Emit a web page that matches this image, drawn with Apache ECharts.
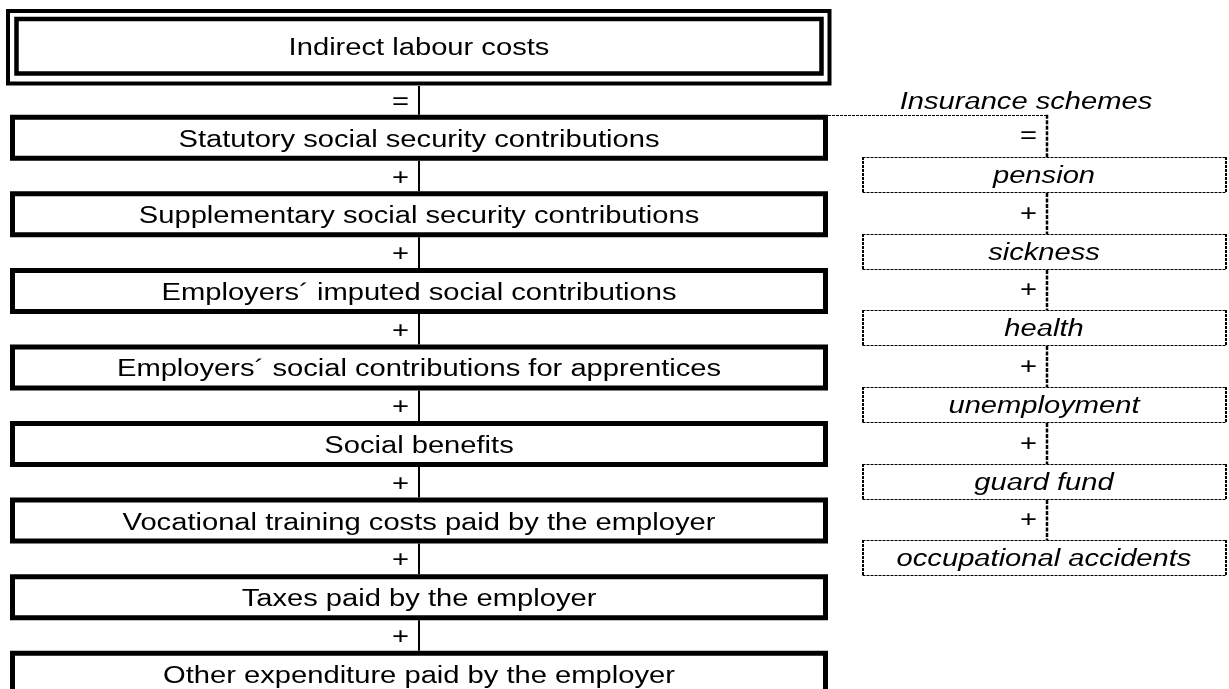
<!DOCTYPE html>
<html>
<head>
<meta charset="utf-8">
<script src="https://cdn.jsdelivr.net/npm/echarts@6/dist/echarts.min.js"></script>
<style>
  html, body { margin: 0; padding: 0; background: #fff; }
  #chartMain { width: 1229px; height: 689px; }
</style>
</head>
<body>
<div id="chartMain"></div>
<script>
// diagram content
const totalLabel = 'Indirect labour costs';
const mainItems = [
    'Statutory social security contributions',
    'Supplementary social security contributions',
    'Employers\u00b4 imputed social contributions',
    'Employers\u00b4 social contributions for apprentices',
    'Social benefits',
    'Vocational training costs paid by the employer',
    'Taxes paid by the employer',
    'Other expenditure paid by the employer'
];
const mainOps = ['=', '+', '+', '+', '+', '+', '+', '+'];
const schemeLabel = 'Insurance schemes';
const schemeItems = ['pension', 'sickness', 'health', 'unemployment', 'guard fund', 'occupational accidents'];
const schemeOps = ['=', '+', '+', '+', '+', '+'];

const FONT = 'Liberation Sans, Arial, sans-serif';
const TOP_ROW = -1.18;
const SCHEME_SHIFT = 0.49;

const label = (x, y, text, opts) => {
    opts = opts || {};
    return {
        type: 'text',
        x: x,
        y: y,
        scaleX: 1.24,
        style: {
            x: 0,
            y: 0,
            text: text,
            fill: '#000',
            align: opts.align || 'center',
            verticalAlign: 'middle',
            fontFamily: FONT,
            fontSize: 23.5,
            fontStyle: opts.italic ? 'italic' : 'normal'
        }
    };
};

const renderTop = (params, api) => {
    const c = api.coord([0, api.value(1)]);
    const x = (v) => api.coord([v, 0])[0];
    return {
        type: 'group',
        children: [
            { type: 'rect', shape: { x: x(8), y: c[1] - 36.5, width: x(829.5) - x(8), height: 72.5 },
              style: { fill: null, stroke: '#000', lineWidth: 4 } },
            { type: 'rect', shape: { x: x(16.5), y: c[1] - 28.5, width: x(821.5) - x(16.5), height: 54.5 },
              style: { fill: null, stroke: '#000', lineWidth: 4.5 } },
            label(x(419), c[1] + 1.5, totalLabel)
        ]
    };
};

const renderMain = (params, api) => {
    const i = api.value(1);
    const c = api.coord([0, i]);
    const x = (v) => api.coord([v, 0])[0];
    const boxTop = c[1] - 23;
    const prevBottom = i === 0 ? api.coord([0, TOP_ROW])[1] + 38.5 : api.coord([0, i - 1])[1] + 23;
    return {
        type: 'group',
        children: [
            { type: 'rect', shape: { x: x(12.5), y: boxTop + 2.5, width: x(825.5) - x(12.5), height: 41 },
              style: { fill: null, stroke: '#000', lineWidth: 5 } },
            { type: 'line', shape: { x1: x(419), y1: prevBottom, x2: x(419), y2: boxTop },
              style: { stroke: '#000', lineWidth: 2 } },
            label(x(409), (prevBottom + boxTop) / 2 + 2, mainOps[i], { align: 'right' }),
            label(x(419), c[1] + 2.5, mainItems[i])
        ]
    };
};

const renderScheme = (params, api) => {
    const j = params.dataIndex;
    const c = api.coord([0, api.value(1)]);
    const x = (v) => api.coord([v, 0])[0];
    const firstTop = api.coord([0, 0])[1] - 23;
    const boxTop = Math.round(c[1] - 18);
    const boxBottom = boxTop + 36;
    const prevBottom = j === 0 ? firstTop : Math.round(api.coord([0, j - 1 + SCHEME_SHIFT])[1] - 18) + 36;
    const thin = { stroke: '#000', lineWidth: 1, lineDash: [3, 1] };
    const side = { stroke: '#000', lineWidth: 2, lineDash: [3, 1] };
    const dash = { stroke: '#000', lineWidth: 2.5, lineDash: [4, 1.5] };
    const L = x(862.5), R = x(1226.5);
    const children = [
        { type: 'line', shape: { x1: L, y1: boxTop + 0.5, x2: R, y2: boxTop + 0.5 }, style: thin },
        { type: 'line', shape: { x1: L, y1: boxBottom - 0.5, x2: R, y2: boxBottom - 0.5 }, style: thin },
        { type: 'line', shape: { x1: L + 0.5, y1: boxTop, x2: L + 0.5, y2: boxBottom }, style: side },
        { type: 'line', shape: { x1: R - 0.5, y1: boxTop, x2: R - 0.5, y2: boxBottom }, style: side },
        { type: 'line', shape: { x1: x(1047), y1: prevBottom, x2: x(1047), y2: boxTop }, style: dash },
        label(x(1037), (prevBottom + boxTop) / 2 + 1, schemeOps[j], { align: 'right' }),
        label(x(1044), c[1] + 1.5, schemeItems[j], { italic: true })
    ];
    if (j === 0) {
        children.push(
            { type: 'line', shape: { x1: x(828), y1: Math.round(firstTop) + 0.5, x2: x(1048), y2: Math.round(firstTop) + 0.5 },
              style: thin },
            label(x(1026), firstTop - 12, schemeLabel, { italic: true })
        );
    }
    return { type: 'group', children: children };
};

const diagramInit = () => {
    var chartDom = document.getElementById('chartMain');
    var myChart = echarts.init(chartDom);
    var option;

    option = {
        animation: false,
        grid: { left: 0, right: 0, top: 0, bottom: 0 },
        xAxis: { type: 'value', min: 0, max: 1229, show: false },
        yAxis: { type: 'value', min: -1.8, max: 7.2, inverse: true, show: false },
        series: [
            {
                type: 'custom',
                renderItem: renderTop,
                encode: { x: 0, y: 1 },
                clip: false,
                data: [[0, TOP_ROW]]
            },
            {
                type: 'custom',
                renderItem: renderMain,
                encode: { x: 0, y: 1 },
                clip: false,
                data: mainItems.map((name, i) => [0, i])
            },
            {
                type: 'custom',
                renderItem: renderScheme,
                encode: { x: 0, y: 1 },
                clip: false,
                data: schemeItems.map((name, j) => [0, j + SCHEME_SHIFT])
            }
        ]
    };

    option && myChart.setOption(option);
};

diagramInit();
</script>
</body>
</html>
